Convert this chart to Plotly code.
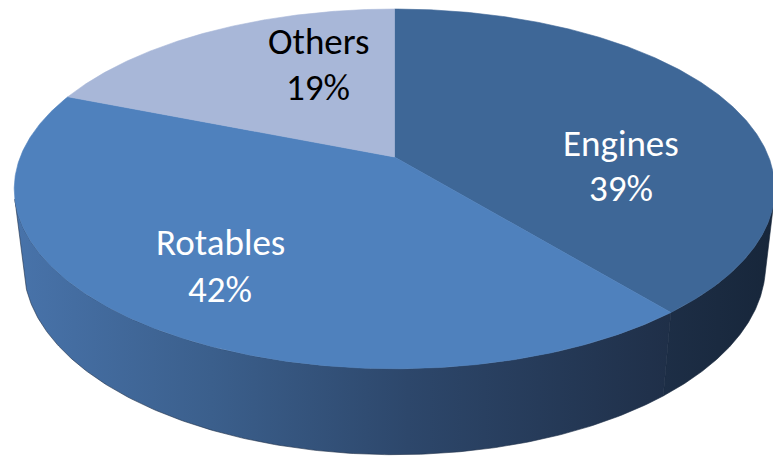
import numpy as np
import plotly.graph_objects as go

# Share of spend by category (percent), clockwise from 12 o'clock
categories = ["Engines", "Rotables", "Others"]
shares = [39, 42, 19]

# Slice styling
top_colors = ["#3E6797", "#4F81BD", "#A8B7D8"]
side_scales = [
    [[0.0, "#1D2E46"], [1.0, "#17263A"]],
    [[0.0, "#4873AA"], [0.3, "#3B5F8C"], [0.6, "#2D476B"], [1.0, "#1F2F48"]],
    [[0.0, "#6F84A8"], [1.0, "#56698C"]],
]
label_colors = ["white", "white", "black"]
label_xy = [(621, 143, 188), (220, 242, 289), (318, 41, 87)]  # x, line-1 y, line-2 y

# Perspective camera for the tilted disc
SIN_A = 0.485
COS_A = np.sqrt(1 - SIN_A ** 2)
DIST = 4.93
FX, FY = 1845.0, 1771.0
CX, CY = 394.5, 157.0
THICK = 0.248
W, H = 773, 458


def project(phi, height):
    """Project a point on the disc rim (angle phi, clockwise from far side)."""
    x = np.sin(phi)
    z = np.cos(phi)
    depth = DIST + z * COS_A - height * SIN_A
    up = height * COS_A + z * SIN_A
    return CX + FX * x / depth, CY - FY * up / depth


fracs = np.array(shares, dtype=float) / np.sum(shares)
ends = np.cumsum(fracs) * 2 * np.pi
starts = np.concatenate([[0.0], ends[:-1]])

# The outer wall faces the viewer only on the near side
vis_lo = np.arccos(-1.0 / (DIST * COS_A))
vis_hi = 2 * np.pi - vis_lo

fig = go.Figure()

# Side walls (drawn first, tops go over them)
for i, (a0, a1) in enumerate(zip(starts, ends)):
    lo, hi = max(a0, vis_lo), min(a1, vis_hi)
    if hi <= lo:
        continue
    phi = np.linspace(lo, hi, 200)
    tx, ty = project(phi, 0.0)
    bx, by = project(phi[::-1], -THICK)
    xs = np.concatenate([tx, bx, tx[:1]])
    ys = np.concatenate([ty, by, ty[:1]])
    fig.add_trace(go.Scatter(
        x=xs, y=ys, mode="lines", fill="toself",
        line=dict(width=0.6, color=side_scales[i][-1][1]),
        fillgradient=dict(type="horizontal", colorscale=side_scales[i],
                          start=float(xs.min()), stop=float(xs.max())),
        hoverinfo="skip", showlegend=False,
    ))

# Top faces of the slices
for i, (a0, a1) in enumerate(zip(starts, ends)):
    phi = np.linspace(a0, a1, 300)
    rx, ry = project(phi, 0.0)
    xs = np.concatenate([[CX], rx, [CX]])
    ys = np.concatenate([[CY], ry, [CY]])
    fig.add_trace(go.Scatter(
        x=xs, y=ys, mode="lines", fill="toself",
        fillcolor=top_colors[i], line=dict(width=0.6, color=top_colors[i]),
        hoverinfo="skip", showlegend=False, name=categories[i],
    ))

# Category and percentage labels
font_family = "Carlito, Calibri, Lato, sans-serif"
for i, cat in enumerate(categories):
    lx, ly1, ly2 = label_xy[i]
    for text, ly in ((cat, ly1), (f"{shares[i]}%", ly2)):
        fig.add_annotation(
            x=lx, y=ly, text=text, showarrow=False,
            xanchor="center", yanchor="middle",
            font=dict(family=font_family, size=37, color=label_colors[i]),
        )

fig.update_layout(
    width=W, height=H,
    margin=dict(l=0, r=0, t=0, b=0),
    paper_bgcolor="white", plot_bgcolor="white",
    xaxis=dict(range=[0, W], visible=False, fixedrange=True),
    yaxis=dict(range=[H, 0], visible=False, fixedrange=True),
    showlegend=False,
)

fig.write_html("out.html")
